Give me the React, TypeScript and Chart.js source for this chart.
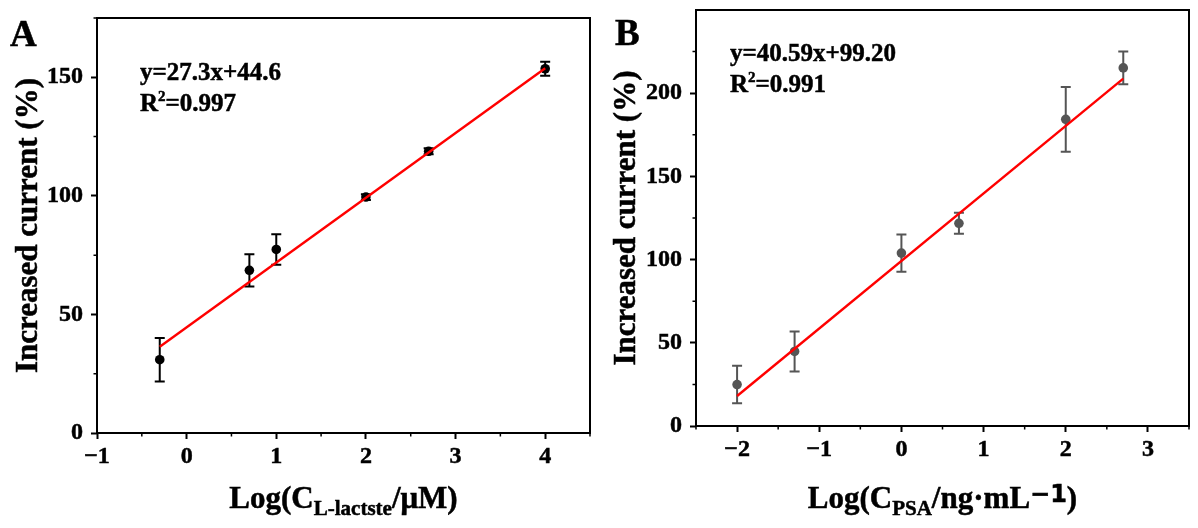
import React, { useEffect, useRef } from "react";
import { Chart, registerables } from "chart.js";

Chart.register(...registerables);

// ---------- Data ----------
// Panel A
const xA = [-0.3, 0.7, 1, 2, 2.7, 4];
const yA = [30.9, 68.6, 77.4, 99.5, 118.8, 153.6];
const errA = [9.2, 6.8, 6.4, 1.2, 1.3, 3.0];
const fitXA = [-0.3, 4];
const fitYA = [36.4, 153.8];
const xTicksA = [-1, 0, 1, 2, 3, 4];
const yTicksA = [0, 50, 100, 150];

// Panel B
const xB = [-2, -1.3, 0, 0.7, 2, 2.7];
const yB = [24.9, 44.8, 103.9, 121.8, 184.3, 215.2];
const errB = [11.3, 12.0, 11.2, 6.3, 19.5, 9.8];
const fitXB = [-2, 2.7];
const fitYB = [18.0, 208.8];
const xTicksB = [-2, -1, 0, 1, 2, 3];
const yTicksB = [0, 50, 100, 150, 200];

const FONT = '"Liberation Serif", "Times New Roman", serif';

type Seg = { t: string; size: number; dy?: number; family?: string };

function drawRich(ctx: CanvasRenderingContext2D, x: number, y: number, segs: Seg[], align: "left" | "center") {
  let total = 0;
  const widths = segs.map((s) => {
    ctx.font = `bold ${s.size}px ${s.family || FONT}`;
    const w = ctx.measureText(s.t).width;
    total += w;
    return w;
  });
  let cx = align === "center" ? x - total / 2 : x;
  ctx.textAlign = "left";
  ctx.lineWidth = 0.5;
  ctx.strokeStyle = "#000";
  segs.forEach((s, i) => {
    ctx.font = `bold ${s.size}px ${s.family || FONT}`;
    ctx.fillText(s.t, cx, y + (s.dy || 0));
    ctx.strokeText(s.t, cx, y + (s.dy || 0));
    cx += widths[i];
  });
}

type PanelCfg = {
  xs: number[];
  ys: number[];
  errs: number[];
  fitX: number[];
  fitY: number[];
  xTicks: number[];
  yTicks: number[];
  xMin: number;
  xMax: number;
  yMax: number;
  pointColor: string;
  top: number;
  xAxisH: number;
  letter: string;
  letterPos: [number, number];
  eq: string;
  r2: string;
  eqPos: [number, number];
  xTitle: Seg[];
  yTitleX: number;
};

const fmt = (v: number) => (v < 0 ? "\u2212" + Math.abs(v) : String(v));

function makeChart(canvas: HTMLCanvasElement, p: PanelCfg) {
  const decor = {
    id: "decor",
    beforeDatasetsDraw(chart: any) {
      const ctx = chart.ctx as CanvasRenderingContext2D;
      const xs = chart.scales.x;
      const ys = chart.scales.y;
      ctx.save();
      ctx.strokeStyle = p.pointColor;
      ctx.lineWidth = 2;
      p.xs.forEach((xv, i) => {
        const px = xs.getPixelForValue(xv);
        const pTop = ys.getPixelForValue(p.ys[i] + p.errs[i]);
        const pBot = ys.getPixelForValue(p.ys[i] - p.errs[i]);
        ctx.beginPath();
        ctx.moveTo(px, pTop);
        ctx.lineTo(px, pBot);
        ctx.moveTo(px - 5, pTop);
        ctx.lineTo(px + 5, pTop);
        ctx.moveTo(px - 5, pBot);
        ctx.lineTo(px + 5, pBot);
        ctx.stroke();
      });
      ctx.restore();
    },
    afterDraw(chart: any) {
      const ctx = chart.ctx as CanvasRenderingContext2D;
      const a = chart.chartArea;
      const xs = chart.scales.x;
      const ys = chart.scales.y;
      ctx.save();
      // frame
      ctx.strokeStyle = "#000";
      ctx.lineWidth = 2;
      ctx.strokeRect(a.left, a.top, a.right - a.left, a.bottom - a.top);
      // minor ticks
      ctx.lineWidth = 1.5;
      const xt = p.xTicks;
      const xstep = xt[1] - xt[0];
      ctx.beginPath();
      for (let v = xt[0] - xstep / 2; v <= p.xMax + 1e-9; v += xstep) {
        if (v < p.xMin - 1e-9) continue;
        const px = xs.getPixelForValue(v);
        ctx.moveTo(px, a.bottom);
        ctx.lineTo(px, a.bottom + 3.5);
      }
      const yt = p.yTicks;
      const ystep = yt[1] - yt[0];
      for (let v = yt[0] + ystep / 2; v <= p.yMax + 1e-9; v += ystep) {
        const py = ys.getPixelForValue(v);
        ctx.moveTo(a.left, py);
        ctx.lineTo(a.left - 3.5, py);
      }
      ctx.stroke();

      ctx.fillStyle = "#000";
      ctx.textBaseline = "alphabetic";
      // panel letter
      drawRich(ctx, p.letterPos[0], p.letterPos[1], [{ t: p.letter, size: 37 }], "left");
      // equation
      drawRich(ctx, p.eqPos[0], p.eqPos[1], [{ t: p.eq, size: 25 }], "left");
      drawRich(
        ctx,
        p.eqPos[0],
        p.eqPos[1] + 31,
        [
          { t: "R", size: 25 },
          { t: "2", size: 15, dy: -10 },
          { t: "=" + p.r2, size: 25 },
        ],
        "left"
      );
      // x title
      drawRich(ctx, (a.left + a.right) / 2, 508, p.xTitle, "center");
      // y title
      ctx.translate(p.yTitleX, (a.top + a.bottom) / 2);
      ctx.rotate(-Math.PI / 2);
      ctx.textBaseline = "middle";
      drawRich(ctx, 0, 0, [{ t: "Increased current (%)", size: 31 }], "center");
      ctx.restore();
    },
  };

  const tickFont = { family: FONT, size: 24, weight: "bold" };

  return new Chart(canvas, {
    type: "scatter",
    data: {
      datasets: [
        {
          type: "line",
          data: p.fitX.map((x, i) => ({ x, y: p.fitY[i] })),
          borderColor: "#ff0000",
          borderWidth: 2.4,
          pointRadius: 0,
          showLine: true,
          fill: false,
          order: 0,
        } as any,
        {
          type: "scatter",
          data: p.xs.map((x, i) => ({ x, y: p.ys[i] })),
          backgroundColor: p.pointColor,
          borderColor: p.pointColor,
          pointRadius: 4.8,
          borderWidth: 0,
          order: 1,
        },
      ],
    },
    options: {
      responsive: false,
      maintainAspectRatio: false,
      animation: false,
      layout: { padding: { left: 0, right: 9, top: p.top, bottom: 0 } },
      plugins: { legend: { display: false }, tooltip: { enabled: false } },
      scales: {
        x: {
          type: "linear",
          min: p.xMin,
          max: p.xMax,
          afterBuildTicks: (s: any) => {
            s.ticks = p.xTicks.map((v) => ({ value: v }));
          },
          afterFit: (s: any) => {
            s.height = p.xAxisH;
            s.paddingLeft = 0;
            s.paddingRight = 0;
            s.paddingTop = 0;
            s.paddingBottom = 0;
          },
          grid: {
            display: true,
            drawOnChartArea: false,
            drawTicks: true,
            tickLength: 6,
            tickWidth: 2,
            tickColor: "#000",
          },
          border: { display: false },
          ticks: {
            color: "#000",
            textStrokeColor: "#000",
            textStrokeWidth: 0.5,
            padding: 3,
            maxRotation: 0,
            autoSkip: false,
            font: tickFont,
            callback: (v: any) => fmt(Number(v)),
          },
        },
        y: {
          type: "linear",
          min: 0,
          max: p.yMax,
          afterBuildTicks: (s: any) => {
            s.ticks = p.yTicks.map((v) => ({ value: v }));
          },
          afterFit: (s: any) => {
            s.width = 97;
            s.paddingLeft = 0;
            s.paddingRight = 0;
            s.paddingTop = 0;
            s.paddingBottom = 0;
          },
          grid: {
            display: true,
            drawOnChartArea: false,
            drawTicks: true,
            tickLength: 6,
            tickWidth: 2,
            tickColor: "#000",
          },
          border: { display: false },
          ticks: {
            color: "#000",
            textStrokeColor: "#000",
            textStrokeWidth: 0.5,
            padding: 8,
            autoSkip: false,
            font: tickFont,
            callback: (v: any) => fmt(Number(v)),
          },
        },
      },
    },
    plugins: [decor],
  } as any);
}

const panelA: PanelCfg = {
  xs: xA,
  ys: yA,
  errs: errA,
  fitX: fitXA,
  fitY: fitYA,
  xTicks: xTicksA,
  yTicks: yTicksA,
  xMin: -1,
  xMax: 4.5,
  yMax: 175,
  pointColor: "#000000",
  top: 18,
  xAxisH: 95,
  letter: "A",
  letterPos: [10, 46],
  eq: "y=27.3x+44.6",
  r2: "0.997",
  eqPos: [140, 80],
  xTitle: [
    { t: "Log(C", size: 31 },
    { t: "L-lactste", size: 21, dy: 7 },
    { t: "/\u03bcM)", size: 31 },
  ],
  yTitleX: 29,
};

const panelB: PanelCfg = {
  xs: xB,
  ys: yB,
  errs: errB,
  fitX: fitXB,
  fitY: fitYB,
  xTicks: xTicksB,
  yTicks: yTicksB,
  xMin: -2.5,
  xMax: 3.5,
  yMax: 250,
  pointColor: "#555555",
  top: 10,
  xAxisH: 102,
  letter: "B",
  letterPos: [16, 45],
  eq: "y=40.59x+99.20",
  r2: "0.991",
  eqPos: [131, 61],
  xTitle: [
    { t: "Log(C", size: 31 },
    { t: "PSA", size: 21, dy: 7 },
    { t: "/ng\u00b7mL", size: 31 },
    { t: "\u22121", size: 24, dy: -6, family: '"DejaVu Sans", sans-serif' },
    { t: ")", size: 31 },
  ],
  yTitleX: 28,
};

function Panel({ cfg, left }: { cfg: PanelCfg; left: number }) {
  const ref = useRef<HTMLCanvasElement | null>(null);
  useEffect(() => {
    if (!ref.current) return;
    const c = makeChart(ref.current, cfg);
    return () => c.destroy();
  }, [cfg]);
  return (
    <canvas
      ref={ref}
      width={599}
      height={528}
      style={{ position: "absolute", left, top: 0, width: 599, height: 528 }}
    />
  );
}

export default function App() {
  return (
    <div style={{ position: "fixed", left: 0, top: 0, width: 1198, height: 528, background: "#fff" }}>
      <Panel cfg={panelA} left={0} />
      <Panel cfg={panelB} left={599} />
    </div>
  );
}
